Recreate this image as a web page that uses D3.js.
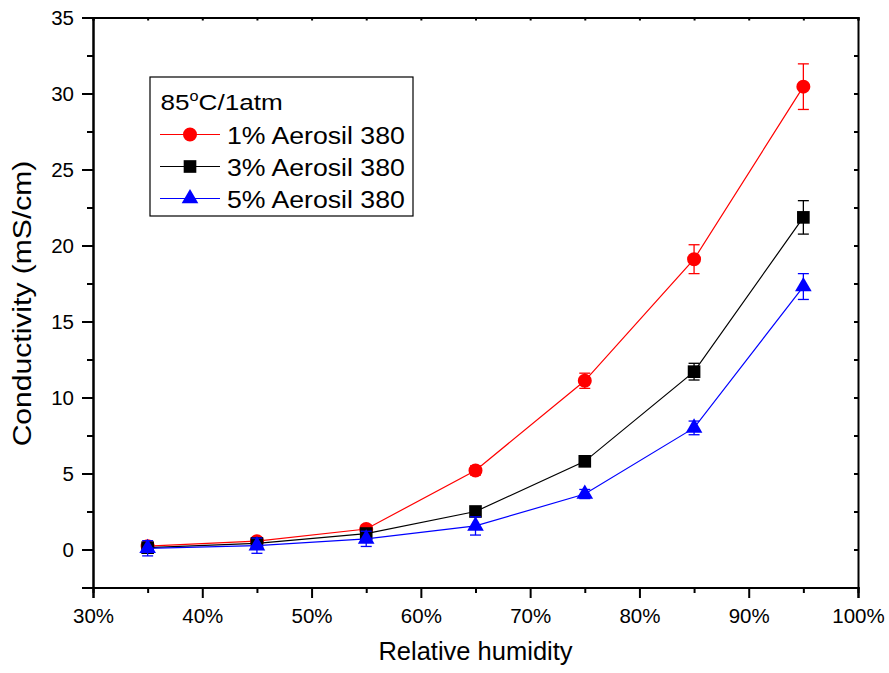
<!DOCTYPE html>
<html>
<head>
<meta charset="utf-8">
<script src="https://cdn.jsdelivr.net/npm/d3@7"></script>
<style>
  body { margin: 0; background: #fff; }
  svg { font-family: "Liberation Sans", Arial, sans-serif; }
</style>
</head>
<body>
<div id="chart"></div>
<script>
// data
const humidity = [35, 45, 55, 65, 75, 85, 95];
const series1 = [0.22, 0.55, 1.35, 5.2, 11.1, 19.1, 30.45];
const err1 = [0.15, 0.2, 0.25, 0.3, 0.5, 0.95, 1.5];
const series3 = [0.12, 0.4, 1.05, 2.5, 5.8, 11.7, 21.85];
const err3 = [0.15, 0.2, 0.25, 0.3, 0.3, 0.55, 1.1];
const series5 = [0.08, 0.25, 0.7, 1.55, 3.65, 8.0, 17.3];
const err5 = [0.5, 0.5, 0.5, 0.6, 0.3, 0.45, 0.85];
const xTicks = [30, 40, 50, 60, 70, 80, 90, 100];
const yTicks = [0, 5, 10, 15, 20, 25, 30, 35];
const legendLabels = ["1% Aerosil 380", "3% Aerosil 380", "5% Aerosil 380"];

const width = 889, height = 673;
const margin = { left: 93, right: 31, top: 17.5, bottom: 85.5 };

const svg = d3.select("#chart").append("svg")
  .attr("width", width)
  .attr("height", height);

const x = d3.scaleLinear().domain([30, 100]).range([margin.left, width - margin.right]);
const y = d3.scaleLinear().domain([-2.5, 35]).range([height - margin.bottom, margin.top]);

const series = [
  { name: legendLabels[0], values: series1, err: err1, color: "#ff0000", shape: d3.symbolCircle, size: 154 },
  { name: legendLabels[1], values: series3, err: err3, color: "#000000", shape: d3.symbolSquare, size: 160 },
  { name: legendLabels[2], values: series5, err: err5, color: "#0000ff", shape: d3.symbolTriangle, size: 120 }
];

// axes
svg.append("g")
  .attr("transform", `translate(0,${y(-2.5)})`)
  .call(d3.axisBottom(x).tickValues(xTicks).tickSize(10.5).tickPadding(10).tickFormat(d => d + "%"));
svg.append("g")
  .attr("transform", `translate(0,${y(-2.5)})`)
  .call(d3.axisBottom(x).tickValues(d3.range(35, 100, 10)).tickSize(5.5).tickFormat(""));

svg.append("g")
  .attr("transform", `translate(${x(30)},0)`)
  .call(d3.axisLeft(y).tickValues(yTicks).tickSize(11).tickPadding(8));
svg.append("g")
  .attr("transform", `translate(${x(30)},0)`)
  .call(d3.axisLeft(y).tickValues(d3.range(-2.5, 35, 5)).tickSize(6).tickFormat(""));

// top and right frame with small inward ticks
svg.append("g")
  .attr("transform", `translate(0,${y(35)})`)
  .call(d3.axisBottom(x).tickValues(d3.range(30, 101, 5)).tickSize(3).tickFormat(""));
svg.append("g")
  .attr("transform", `translate(${x(100)},0)`)
  .call(d3.axisLeft(y).tickValues(d3.range(-2.5, 35.1, 2.5)).tickSize(4).tickFormat(""));

svg.selectAll(".domain").attr("stroke", "#000").attr("stroke-width", 2);
svg.selectAll(".tick line").attr("stroke", "#000").attr("stroke-width", 2);
svg.selectAll(".tick text").attr("font-size", 20.5).attr("fill", "#000")
  .attr("font-family", "Liberation Sans, Arial, sans-serif");

// axis titles
svg.append("text")
  .attr("x", x(65))
  .attr("y", 660)
  .attr("text-anchor", "middle")
  .attr("font-size", 25.5)
  .text("Relative humidity");

svg.append("text")
  .attr("transform", "translate(31,303.5) rotate(-90) scale(1.18,1)")
  .attr("text-anchor", "middle")
  .attr("font-size", 25.5)
  .text("Conductivity (mS/cm)");

// data
const line = d3.line().x((d, i) => x(humidity[i])).y(d => y(d));

series.forEach(function (s) {
  const g = svg.append("g");
  g.append("path")
    .attr("d", line(s.values))
    .attr("fill", "none")
    .attr("stroke", s.color)
    .attr("stroke-width", 1.2);

  const eb = g.selectAll(".eb")
    .data(s.values)
    .enter().append("g");
  eb.append("line")
    .attr("x1", (d, i) => x(humidity[i]))
    .attr("x2", (d, i) => x(humidity[i]))
    .attr("y1", (d, i) => y(d - s.err[i]))
    .attr("y2", (d, i) => y(d + s.err[i]))
    .attr("stroke", s.color).attr("stroke-width", 1.3);
  [-1, 1].forEach(function (sign) {
    eb.append("line")
      .attr("x1", (d, i) => x(humidity[i]) - 5.5)
      .attr("x2", (d, i) => x(humidity[i]) + 5.5)
      .attr("y1", (d, i) => y(d + sign * s.err[i]))
      .attr("y2", (d, i) => y(d + sign * s.err[i]))
      .attr("stroke", s.color).attr("stroke-width", 1.3);
  });

  g.selectAll(".pt")
    .data(s.values)
    .enter().append("path")
    .attr("d", d3.symbol().type(s.shape).size(s.size))
    .attr("transform", (d, i) => `translate(${x(humidity[i])},${y(d)})`)
    .attr("fill", s.color);
});

// legend
const legend = svg.append("g").attr("transform", "translate(150,77)");
legend.append("rect")
  .attr("width", 263)
  .attr("height", 139)
  .attr("fill", "#fff")
  .attr("stroke", "#000")
  .attr("stroke-width", 1.2);

const title = legend.append("text")
  .attr("transform", "translate(10.5,33) scale(1.16,1)")
  .attr("font-size", 22.5);
title.append("tspan").text("85");
title.append("tspan").attr("dy", -9).attr("font-size", 14).text("o");
title.append("tspan").attr("dy", 9).text("C/1atm");

series.forEach(function (s, i) {
  const cy = 57.5 + i * 32;
  legend.append("line")
    .attr("x1", 10).attr("x2", 70)
    .attr("y1", cy).attr("y2", cy)
    .attr("stroke", s.color).attr("stroke-width", 1.2);
  legend.append("path")
    .attr("d", d3.symbol().type(s.shape).size(s.size))
    .attr("transform", `translate(40,${cy})`)
    .attr("fill", s.color);
  legend.append("text")
    .attr("transform", `translate(77,${cy + 9.5}) scale(1.16,1)`)
    .attr("font-size", 23)
    .text(s.name);
});
</script>
</body>
</html>
